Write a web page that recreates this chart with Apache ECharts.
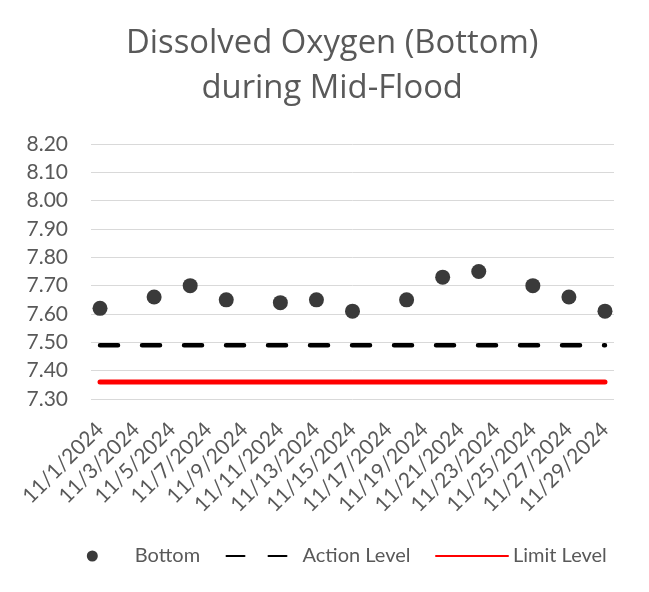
<!DOCTYPE html>
<html>
<head>
<meta charset="utf-8">
<script src="https://cdn.jsdelivr.net/npm/echarts@6/dist/echarts.min.js"></script>
<style>html,body{margin:0;padding:0;background:#fff;}#c{width:649px;height:592px;}</style>
</head>
<body>
<div id="c"></div>
<script>
const categories = ['11/1/2024','11/2/2024','11/3/2024','11/4/2024','11/5/2024','11/6/2024','11/7/2024','11/8/2024','11/9/2024','11/10/2024','11/11/2024','11/12/2024','11/13/2024','11/14/2024','11/15/2024','11/16/2024','11/17/2024','11/18/2024','11/19/2024','11/20/2024','11/21/2024','11/22/2024','11/23/2024','11/24/2024','11/25/2024','11/26/2024','11/27/2024','11/28/2024','11/29/2024'];
const sampleDates = ['11/1/2024','11/4/2024','11/6/2024','11/8/2024','11/11/2024','11/13/2024','11/15/2024','11/18/2024','11/20/2024','11/22/2024','11/25/2024','11/27/2024','11/29/2024'];
const bottomValues = [7.62, 7.66, 7.70, 7.65, 7.64, 7.65, 7.61, 7.65, 7.73, 7.75, 7.70, 7.66, 7.61];
const actionLevel = [7.49, 7.49];
const limitLevel = [7.36, 7.36];
const levelDates = ['11/1/2024', '11/29/2024'];
const titleText = 'Dissolved Oxygen (Bottom)\nduring Mid-Flood';

const FONT = 'Lato';
const GREY = '#595959';
const chart = echarts.init(document.getElementById('c'));
chart.setOption({
  backgroundColor: '#fff',
  animation: false,
  textStyle: {fontFamily: FONT},
  graphic: [{
    type: 'text', left: 126, top: 21,
    style: {text: titleText, textAlign: 'center', fontFamily: 'Open Sans', fontSize: 32.8, fill: GREY, lineHeight: 45}
  }],
  grid: {left: 91, right: 35, top: 144, bottom: 193, containLabel: false},
  xAxis: {
    type: 'category',
    data: categories,
    boundaryGap: true,
    axisLine: {show: false},
    axisTick: {show: false},
    axisLabel: {interval: 1, rotate: 45, margin: 27, fontFamily: FONT, fontSize: 21, color: GREY}
  },
  yAxis: {
    type: 'value',
    min: 7.3, max: 8.2, interval: 0.1,
    axisLine: {show: false},
    axisTick: {show: false},
    splitLine: {lineStyle: {color: '#d9d9d9', width: 1}},
    axisLabel: {margin: 23, fontFamily: FONT, fontSize: 21, color: GREY, formatter: v => v.toFixed(2)}
  },
  legend: [
    {data: ['Bottom'], left: 81.8, top: 541, itemWidth: 11, itemHeight: 11, itemGap: 0,
     textStyle: {fontFamily: FONT, fontSize: 20, color: GREY, padding: [0, 0, 0, 32]}},
    {data: ['Action Level'], left: 220.5, top: 541, itemWidth: 71, itemHeight: 11, itemGap: 0,
     itemStyle: {opacity: 0},
     textStyle: {fontFamily: FONT, fontSize: 20, color: GREY}},
    {data: ['Limit Level'], left: 430, top: 541, itemWidth: 72, itemHeight: 11, itemGap: 0,
     itemStyle: {opacity: 0},
     textStyle: {fontFamily: FONT, fontSize: 20, color: GREY}}
  ],
  series: [
    {
      name: 'Limit Level', type: 'line', symbol: 'none', z: 2,
      data: levelDates.map((d, i) => [d, limitLevel[i]]),
      lineStyle: {color: '#ff0000', width: 5, cap: 'round'},
      itemStyle: {color: '#ff0000'}
    },
    {
      name: 'Action Level', type: 'line', symbol: 'none', z: 3,
      data: levelDates.map((d, i) => [d, actionLevel[i]]),
      lineStyle: {color: '#000000', width: 4.5, type: [18, 24], cap: 'round'},
      itemStyle: {color: '#000000'}
    },
    {
      name: 'Bottom', type: 'scatter', symbol: 'circle', symbolSize: 15, z: 4,
      data: sampleDates.map((d, i) => [d, bottomValues[i]]),
      itemStyle: {color: '#3a3a3a', opacity: 1}
    }
  ]
});
</script>
</body>
</html>
